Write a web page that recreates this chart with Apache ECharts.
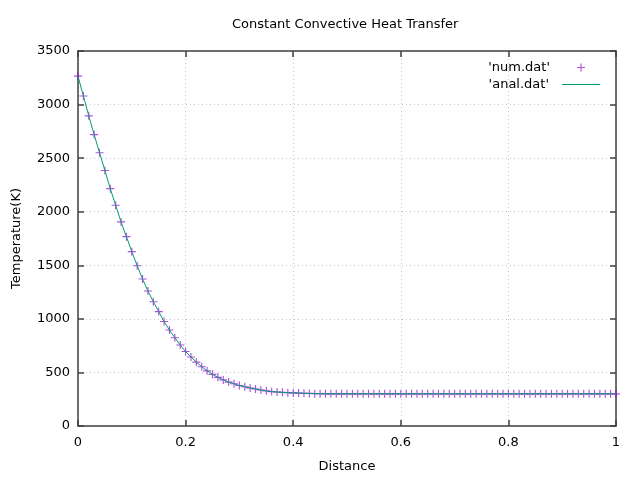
<!DOCTYPE html>
<html>
<head>
<meta charset="utf-8">
<title>Constant Convective Heat Transfer</title>
<script src="https://cdn.jsdelivr.net/npm/echarts@6/dist/echarts.min.js"></script>
<style>
	html, body { margin: 0; padding: 0; background: #fff; }
	#chart { width: 640px; height: 480px; }
</style>
</head>
<body>
<div id="chart"></div>
<script>
/*
 *  ========== data ==========
 */
// distance along the fin (x), step 0.01
var distance = [
	0.00, 0.01, 0.02, 0.03, 0.04, 0.05, 0.06, 0.07, 0.08, 0.09,
	0.10, 0.11, 0.12, 0.13, 0.14, 0.15, 0.16, 0.17, 0.18, 0.19,
	0.20, 0.21, 0.22, 0.23, 0.24, 0.25, 0.26, 0.27, 0.28, 0.29,
	0.30, 0.31, 0.32, 0.33, 0.34, 0.35, 0.36, 0.37, 0.38, 0.39,
	0.40, 0.41, 0.42, 0.43, 0.44, 0.45, 0.46, 0.47, 0.48, 0.49,
	0.50, 0.51, 0.52, 0.53, 0.54, 0.55, 0.56, 0.57, 0.58, 0.59,
	0.60, 0.61, 0.62, 0.63, 0.64, 0.65, 0.66, 0.67, 0.68, 0.69,
	0.70, 0.71, 0.72, 0.73, 0.74, 0.75, 0.76, 0.77, 0.78, 0.79,
	0.80, 0.81, 0.82, 0.83, 0.84, 0.85, 0.86, 0.87, 0.88, 0.89,
	0.90, 0.91, 0.92, 0.93, 0.94, 0.95, 0.96, 0.97, 0.98, 0.99,
	1.00
];

// 'num.dat' temperature (K)
var numTemp = [
	3265, 3080, 2895, 2720, 2550, 2385, 2215, 2060, 1905, 1767,
	1627, 1496, 1372, 1260, 1160, 1068, 975, 896, 824, 756,
	695, 644, 596, 553, 515, 482, 454, 430, 410, 394,
	378, 366, 355, 345, 336, 328, 321, 317, 314, 311,
	309, 307, 305, 304, 302, 301, 300, 300, 300, 300,
	300, 300, 300, 300, 300, 300, 300, 300, 300, 300,
	300, 300, 300, 300, 300, 300, 300, 300, 300, 300,
	300, 300, 300, 300, 300, 300, 300, 300, 300, 300,
	300, 300, 300, 300, 300, 300, 300, 300, 300, 300,
	300, 300, 300, 300, 300, 300, 300, 300, 300, 300,
	300
];

// 'anal.dat' - lies on top of the numeric points at this resolution
var analTemp = [
	3265, 3080, 2895, 2720, 2550, 2385, 2215, 2060, 1905, 1767,
	1627, 1496, 1372, 1260, 1160, 1068, 975, 896, 824, 756,
	695, 644, 596, 553, 515, 482, 454, 430, 410, 394,
	378, 366, 355, 345, 336, 328, 321, 317, 314, 311,
	309, 307, 305, 304, 302, 301, 300, 300, 300, 300,
	300, 300, 300, 300, 300, 300, 300, 300, 300, 300,
	300, 300, 300, 300, 300, 300, 300, 300, 300, 300,
	300, 300, 300, 300, 300, 300, 300, 300, 300, 300,
	300, 300, 300, 300, 300, 300, 300, 300, 300, 300,
	300, 300, 300, 300, 300, 300, 300, 300, 300, 300,
	300
];

var seriesNames = ["'num.dat'", "'anal.dat'"];

/*
 *  ========== chart ==========
 */
var fontFamily = 'DejaVu Sans';
var fontSize = 13;
var frameColor = '#404040';
var gridColor = '#c8c8c8';
var plusPath = 'path://M4.3,0H5.7V4.3H10V5.7H5.7V10H4.3V5.7H0V4.3H4.3Z';
var dashPath = 'path://M0,0H38V1.2H0Z';

function pairs(xs, ys) {
	var out = [];
	for (var i = 0; i < xs.length; i++) {
		out.push([xs[i], ys[i]]);
	}
	return out;
}

function frameAxis(pos, isX, main) {
	var ax = {
		type: 'value',
		position: pos,
		min: 0,
		max: isX ? 1 : 3500,
		interval: isX ? 0.2 : 500,
		axisLine: { show: true, onZero: false, lineStyle: { color: frameColor, width: 1.5 } },
		axisTick: { show: true, inside: true, length: 6, lineStyle: { color: frameColor, width: 1.5 } },
		axisLabel: {
			show: main,
			color: '#000',
			fontFamily: fontFamily,
			fontSize: fontSize,
			margin: isX ? 10 : 8,
			formatter: function (v) { return String(v); }
		},
		splitLine: { show: main, lineStyle: { color: gridColor, width: 1, type: [1, 3] } }
	};
	if (main) {
		ax.name = isX ? 'Distance' : 'Temperature(K)';
		ax.nameLocation = 'middle';
		ax.nameGap = isX ? 34 : 55;
		ax.nameTextStyle = { color: '#000', fontFamily: fontFamily, fontSize: fontSize };
	}
	return ax;
}

var myChart = echarts.init(document.getElementById('chart'), null, { renderer: 'canvas' });

var option = {
	animation: false,
	backgroundColor: '#fff',
	title: {
		text: 'Constant Convective Heat Transfer',
		left: 232,
		top: 18,
		padding: 0,
		textStyle: { color: '#000', fontFamily: fontFamily, fontSize: fontSize, fontWeight: 'normal' }
	},
	legend: [{
		data: [{ name: seriesNames[0], icon: plusPath }],
		right: 55,
		top: 61,
		padding: 0,
		align: 'right',
		itemWidth: 8,
		itemHeight: 8,
		selectedMode: false,
		textStyle: { color: '#000', fontFamily: fontFamily, fontSize: fontSize, padding: [0, 22, 0, 0] }
	}, {
		data: [{ name: seriesNames[1], icon: dashPath }],
		right: 40,
		top: 78,
		padding: 0,
		align: 'right',
		itemWidth: 38,
		itemHeight: 9,
		selectedMode: false,
		textStyle: { color: '#000', fontFamily: fontFamily, fontSize: fontSize, padding: [0, 8, 0, 0] }
	}],
	grid: {
		left: 78,
		right: 24,
		top: 51,
		bottom: 54,
		containLabel: false
	},
	xAxis: [frameAxis('bottom', true, true), frameAxis('top', true, false)],
	yAxis: [frameAxis('left', false, true), frameAxis('right', false, false)],
	series: [{
		name: seriesNames[0],
		type: 'scatter',
		data: pairs(distance, numTemp),
		symbol: plusPath,
		symbolSize: 8,
		itemStyle: { color: '#9400d3', opacity: 0.7 },
		z: 2
	}, {
		name: seriesNames[1],
		type: 'line',
		data: pairs(distance, analTemp),
		symbol: 'none',
		lineStyle: { color: '#009e73', width: 1 },
		itemStyle: { color: '#009e73' },
		z: 3
	}]
};

myChart.setOption(option);
</script>
</body>
</html>
